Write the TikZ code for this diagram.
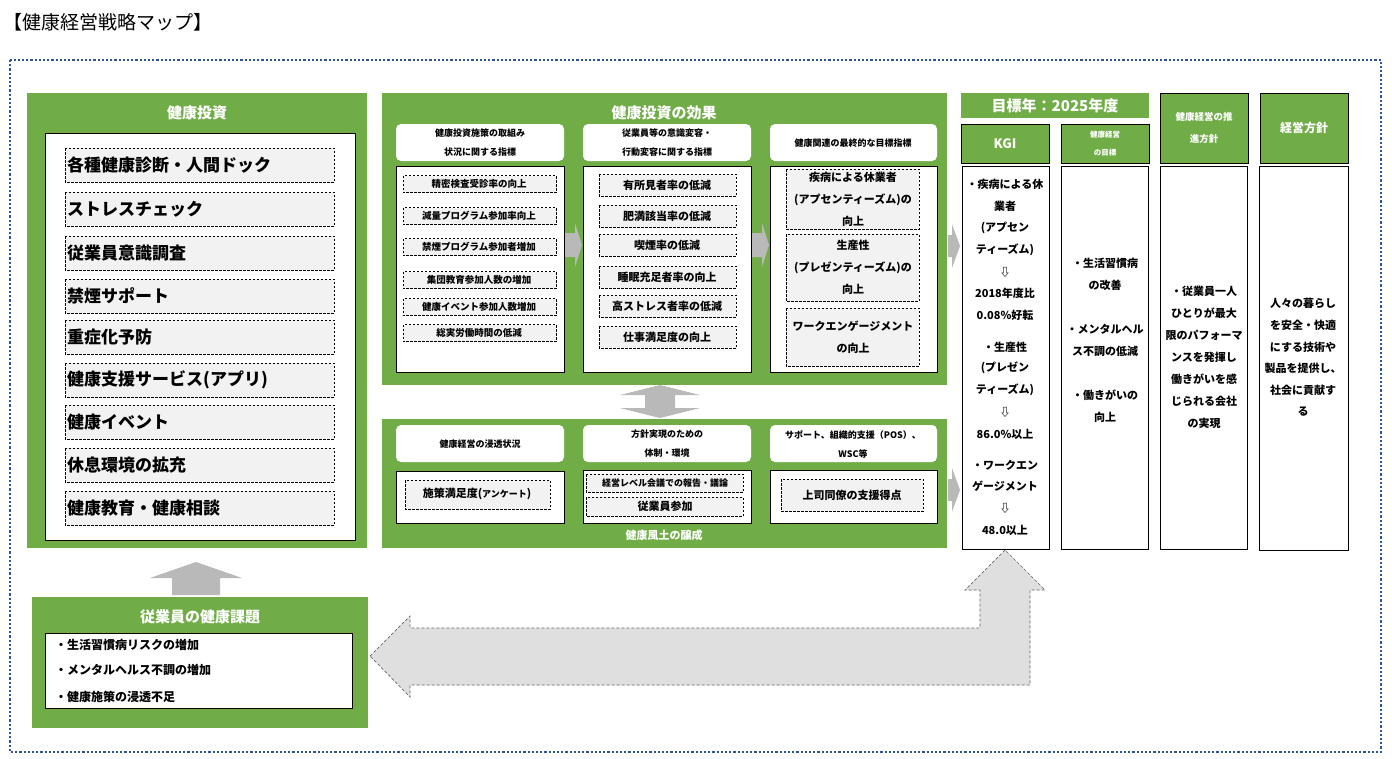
\documentclass[tikz,border=0pt]{standalone}
\usepackage{fontspec}
\setmainfont{Noto Sans CJK JP}
\begin{document}
\begin{tikzpicture}[x=1pt,y=-1pt,font=\bfseries,
  grn/.style={fill=G,draw=none},
  hdr/.style={fill=G,draw=black,line width=0.8pt},
  wbox/.style={fill=white,draw=black,line width=0.8pt},
  rhdr/.style={fill=white,draw=none,rounded corners=5pt},
  dbox/.style={fill=gray!10,draw=black,dash pattern=on 2.5pt off 1.5pt,line width=0.6pt},
  garrow/.style={fill=gray!55,draw=none},
  wt/.style={text=white,inner sep=0pt},
  t/.style={inner sep=0pt,font=\bfseries\fontsize{11}{13}\selectfont}]
\definecolor{G}{HTML}{70AD47}
\definecolor{B}{HTML}{2F5597}
\useasboundingbox (0,0) rectangle (1392,758);
\fill[white] (0,0) rectangle (1392,758);
\node[anchor=west,inner sep=0pt,font=\fontsize{19}{21}\selectfont] (title) at (3,22) {【健康経営戦略マップ】};
\draw[B,line width=2.6pt,dash pattern=on 2.2pt off 2pt] (10,60) rectangle (1381,752);

% left panel
\fill[grn] (27,93) rectangle (367,548);
\node[wt,font=\bfseries\fontsize{15}{17}\selectfont] (lt) at (197,113) {健康投資};
\draw[wbox] (45,133) rectangle (355,540);
\foreach \yy/\tx in {165/各種健康診断・人間ドック,209/ストレスチェック,253/従業員意識調査,296/禁煙サポート,337/重症化予防,380/健康支援サービス(アプリ),422/健康イベント,465/休息環境の拡充,508/健康教育・健康相談}{
  \draw[dbox] (65,\yy-17) rectangle (334,\yy+17);
  \node[anchor=west,inner sep=0pt,font=\bfseries\fontsize{17}{19}\selectfont] at (67,\yy) {\tx};
}
% up arrow
\fill[garrow] (172,595) -- (172,578) -- (150,578) -- (196,562) -- (242,578) -- (220,578) -- (220,595) -- cycle;

% bottom-left panel
\fill[grn] (32,597) rectangle (368,728);
\node[wt,font=\bfseries\fontsize{15}{17}\selectfont] (bt) at (200,617) {従業員の健康課題};
\draw[wbox] (45,633) rectangle (352,708);
\foreach \yy/\tx in {645/・生活習慣病リスクの増加,670/・メンタルヘルス不調の増加,697/・健康施策の浸透不足}{
  \node[anchor=west,t,font=\bfseries\fontsize{12}{14}\selectfont] at (55,\yy) {\tx};}

% big return arrow
\draw[fill=gray!25,draw=gray!80!black,dash pattern=on 3pt off 2pt,line width=0.7pt]
 (370,656) -- (410,616) -- (410,628) -- (980,628) -- (980,590) -- (965,590) -- (1005,550) -- (1045,590) -- (1030,590) -- (1030,685) -- (410,685) -- (410,697) -- cycle;

% middle top panel
\fill[grn] (382,93) rectangle (947,385);
\node[wt,font=\bfseries\fontsize{15}{17}\selectfont] (mt) at (664,113) {健康投資の効果};
\draw[rhdr] (396,124) rectangle (564,161);
\draw[rhdr] (583,124) rectangle (751,161);
\draw[rhdr] (770,124) rectangle (937,161);
\node[t,align=center,font=\bfseries\fontsize{9}{19}\selectfont] at (480,143) {健康投資施策の取組み\\状況に関する指標};
\node[t,align=center,font=\bfseries\fontsize{9}{19}\selectfont] at (667,143) {従業員等の意識変容・\\行動変容に関する指標};
\node[t,font=\bfseries\fontsize{9}{11}\selectfont] at (853,143) {健康関連の最終的な目標指標};
\draw[wbox] (396,166) rectangle (564,372);
\draw[wbox] (583,166) rectangle (751,372);
\draw[wbox] (770,166) rectangle (937,372);
\foreach \yy/\tx in {184/精密検査受診率の向上,216/減量プログラム参加率向上,247/禁煙プログラム参加者増加,280/集団教育参加人数の増加,307/健康イベント参加人数増加,333/総実労働時間の低減}{
  \draw[dbox] (403,\yy-8.5) rectangle (556,\yy+8.5);
  \node[t,font=\bfseries\fontsize{9.5}{11}\selectfont] at (479,\yy) {\tx};}
\foreach \yy/\tx in {185/有所見者率の低減,216/肥満該当率の低減,245/喫煙率の低減,277/睡眠充足者率の向上,306/高ストレス者率の低減,337/仕事満足度の向上}{
  \draw[dbox] (599,\yy-11) rectangle (736,\yy+11);
  \node[t,font=\bfseries\fontsize{11}{13}\selectfont] at (667,\yy) {\tx};}
\draw[dbox] (786,169) rectangle (919,229);
\draw[dbox] (786,234) rectangle (919,301);
\draw[dbox] (786,308) rectangle (919,366);
\node[t,align=center,font=\bfseries\fontsize{11}{22}\selectfont] at (853,199) {疾病による休業者\\(アプセンティーズム)の\\向上};
\node[t,align=center,font=\bfseries\fontsize{11}{22}\selectfont] at (853,267) {生産性\\(プレゼンティーズム)の\\向上};
\node[t,align=center,font=\bfseries\fontsize{11}{22}\selectfont] at (853,337) {ワークエンゲージメント\\の向上};
% small right arrows
\foreach \xx in {565,752}{
  \fill[garrow] (\xx,233) -- (\xx+10,233) -- (\xx+10,223) -- (\xx+17,245) -- (\xx+10,267) -- (\xx+10,257) -- (\xx,257) -- cycle;}
\fill[garrow] (948,235) -- (952,235) -- (952,224) -- (960,246) -- (952,268) -- (952,257) -- (948,257) -- cycle;
% vertical double arrow
\fill[garrow] (660,385) -- (700,395) -- (675,395) -- (675,408) -- (700,408) -- (660,418) -- (620,408) -- (645,408) -- (645,395) -- (620,395) -- cycle;

% middle bottom panel
\fill[grn] (382,419) rectangle (947,548);
\draw[rhdr] (396,425) rectangle (564,462);
\draw[rhdr] (583,425) rectangle (751,462);
\draw[rhdr] (770,425) rectangle (937,462);
\node[t,font=\bfseries\fontsize{9}{11}\selectfont] at (480,444) {健康経営の浸透状況};
\node[t,align=center,font=\bfseries\fontsize{9}{19}\selectfont] at (667,444) {方針実現のための\\体制・環境};
\node[t,align=center,font=\bfseries\fontsize{9}{19}\selectfont] at (853,444) {サポート、組織的支援（POS）、\\WSC等};
\draw[wbox] (396,471) rectangle (564,523);
\draw[wbox] (583,470) rectangle (751,523);
\draw[wbox] (770,470) rectangle (937,523);
\draw[dbox] (405,480) rectangle (550,509);
\node[t,font=\bfseries\fontsize{11}{13}\selectfont] at (477,494) {施策満足度(\fontsize{9}{11}\selectfont アンケート\fontsize{11}{13}\selectfont)};
\draw[dbox] (586,474) rectangle (743,492);
\node[t,font=\bfseries\fontsize{9}{11}\selectfont] at (665,483) {経営レベル会議での報告・議論};
\draw[dbox] (586,497) rectangle (743,516);
\node[t,font=\bfseries\fontsize{11}{13}\selectfont] at (665,506) {従業員参加};
\draw[dbox] (781,479) rectangle (923,511);
\node[t,font=\bfseries\fontsize{11}{13}\selectfont] at (852,495) {上司同僚の支援得点};
\node[wt,font=\bfseries\fontsize{11}{13}\selectfont] (bm) at (664,535) {健康風土の醸成};
\fill[garrow] (948,479) -- (952,479) -- (952,468) -- (960,490) -- (952,512) -- (952,501) -- (948,501) -- cycle;

% right section
\fill[grn] (961,93) rectangle (1149,118);
\node[wt,font=\bfseries\fontsize{15}{17}\selectfont] (yr) at (1055,106) {目標年：2025年度};
\draw[hdr] (961,124) rectangle (1049,163);
\node[wt,font=\bfseries\fontsize{13}{15}\selectfont] at (1005,144) {KGI};
\draw[hdr] (1061,124) rectangle (1149,163);
\node[wt,align=center,font=\bfseries\fontsize{7.5}{18}\selectfont] at (1105,144) {健康経営\\の目標};
\draw[hdr] (1160,93) rectangle (1248,163);
\node[wt,align=center,font=\bfseries\fontsize{9.5}{22}\selectfont] at (1204,128) {健康経営の推\\進方針};
\draw[hdr] (1260,93) rectangle (1348,163);
\node[wt,font=\bfseries\fontsize{12}{14}\selectfont] at (1304,128) {経営方針};
\draw[wbox] (962,166) rectangle (1049,549);
\draw[wbox] (1061,166) rectangle (1148,549);
\draw[wbox] (1160,166) rectangle (1247,549);
\draw[wbox] (1259,166) rectangle (1348,550);
\foreach \yy/\tx in {184/・疾病による休,206/業者,228/(アプセン,250/ティーズム),272/⇩,293/2018年度比,315/0.08\%好転,347/・生産性,368/(プレゼン,390/ティーズム),412/⇩,434/86.0\%以上,465/・ワークエン,486/ゲージメント,508/⇩,530/48.0以上}{
  \node[t] at (1005,\yy) {\tx};}
\foreach \yy/\tx in {263/・生活習慣病,285/の改善,329/・メンタルヘル,351/ス不調の低減,395/・働きがいの,417/向上}{
  \node[t] at (1105,\yy) {\tx};}
\foreach \yy/\tx in {291/・従業員一人,313/ひとりが最大,335/限のパフォーマ,357/ンスを発揮し,379/働きがいを感,401/じられる会社,423/の実現}{
  \node[t] at (1204,\yy) {\tx};}
\foreach \yy/\tx in {303/人々の暮らし,325/を安全・快適,347/にする技術や,368/製品を提供し、,390/社会に貢献す,412/る}{
  \node[t] at (1303,\yy) {\tx};}
\end{tikzpicture}
\end{document}
